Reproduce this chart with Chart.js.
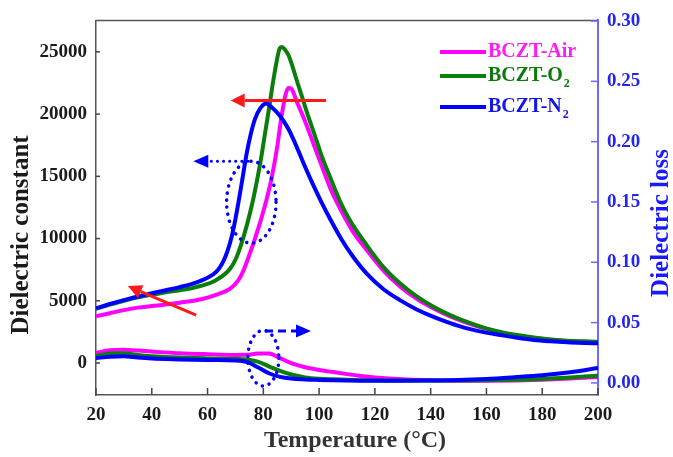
<!DOCTYPE html>
<html lang="en">
<head>
<meta charset="UTF-8" />
<title>BCZT dielectric constant and loss</title>
<script src="https://cdn.jsdelivr.net/npm/chart.js@4.4.0/dist/chart.umd.min.js"></script>
<style>
    body { margin: 0; background: #fff; }
</style>
</head>
<body>
<canvas id="mychart" width="673" height="457"></canvas>
<script>
// dielectric constant (left axis)
const airT   = [20,25,30,35,40,45,50,55,60,64,68,71,73,75,77,79,81,83,85,86.5,88,89,90,92,95,98,101,104,108,112,117,123,129,135,141,147,153,159,165,171,177,183,189,195,200];
const airEps = [3750,4000,4250,4450,4580,4700,4850,5000,5250,5550,5950,6650,7500,8700,10000,11400,13000,14900,17400,19800,21600,22100,22050,21000,19400,17600,15800,14050,12200,10600,9100,7450,6150,5150,4380,3750,3230,2800,2460,2200,2010,1870,1760,1700,1660];

const o2T   = [20,25,30,35,40,45,50,55,60,63,66,68,70,72,74,76,77.5,79,80.5,82,83.5,85,85.8,86.7,87.7,89,90.5,92,94,96,98,101,104,107.5,111,117,123,129,135,141,147,153,159,165,171,177,183,189,195,200];
const o2Eps = [4350,4700,5000,5280,5480,5680,5850,6050,6350,6660,7100,7550,8300,9500,11000,12800,14400,16200,18300,20400,22600,24500,25250,25400,25200,24750,23800,22700,21300,19900,18600,16600,14900,13000,11500,9500,7730,6400,5350,4520,3850,3300,2850,2500,2250,2050,1900,1790,1740,1700];

const n2T   = [20,25,30,35,40,45,50,55,60,63,65,66.5,68,69.5,71,72.5,74,75.5,77,79,81,83,86,89,92,95,98,101,104,108,112,117,123,129,135,141,147,153,159,165,171,177,183,189,195,200];
const n2Eps = [4400,4750,5050,5350,5600,5850,6100,6400,6850,7300,7900,8600,9600,11000,12800,14800,16800,18400,19600,20500,20850,20550,19850,18800,17350,15750,14250,12850,11550,9950,8600,7200,5950,5050,4300,3700,3200,2780,2480,2250,2030,1850,1740,1660,1610,1580];

// dielectric loss (right axis)
const lossT  = [20,25,30,35,40,50,60,70,74,78,82,86,90,95,100,105,110,115,120,130,140,150,160,170,180,190,200];
const airLoss = [0.025,0.027,0.0275,0.0268,0.026,0.0246,0.0238,0.0232,0.0233,0.0243,0.0244,0.0205,0.0165,0.013,0.0108,0.009,0.0073,0.0058,0.0046,0.003,0.0023,0.0019,0.0018,0.002,0.0026,0.0036,0.005];
const o2Loss  = [0.0224,0.0244,0.0246,0.0232,0.0222,0.021,0.0203,0.0198,0.0194,0.0176,0.0138,0.01,0.007,0.0046,0.0035,0.003,0.0026,0.0023,0.0022,0.002,0.002,0.0021,0.0022,0.0026,0.0033,0.0045,0.006];
const n2Loss  = [0.0205,0.0218,0.0221,0.021,0.0202,0.0195,0.019,0.0186,0.0174,0.013,0.008,0.005,0.0036,0.0029,0.0025,0.0022,0.002,0.0019,0.0019,0.0019,0.002,0.0024,0.0033,0.0047,0.0063,0.0088,0.0124];

const xTicks    = [20,40,60,80,100,120,140,160,180,200];
const epsTicks  = [0,5000,10000,15000,20000,25000];
const lossTicks = [0,0.05,0.10,0.15,0.20,0.25,0.30];

const legendNames = ["BCZT-Air", "BCZT-O", "BCZT-N"];
const legendSubs  = ["", "2", "2"];

const MAGENTA = "#ff00ff", GREEN = "#0a7d0a", BLUE = "#0000ff";
const AXISBLUE = "#6b6bff";
const serif = "'Liberation Serif', 'Times New Roman', serif";

function pts(xs, ys) {
    return xs.map((x, i) => ({ x: x, y: ys[i] }));
}

function line(label, data, color, axis) {
    return {
        label: label,
        data: data,
        yAxisID: axis,
        borderColor: color,
        backgroundColor: color,
        borderWidth: 4,
        pointRadius: 0,
        fill: false,
        cubicInterpolationMode: 'monotone'
    };
}

function arrow(c, x1, y1, x2, y2, color, width, dash, headLen, headW) {
    const ang = Math.atan2(y2 - y1, x2 - x1);
    const bx = x2 - Math.cos(ang) * headLen, by = y2 - Math.sin(ang) * headLen;
    c.save();
    c.strokeStyle = color;
    c.fillStyle = color;
    c.lineWidth = width;
    c.lineCap = dash && dash[0] < 1 ? 'round' : 'butt';
    c.setLineDash(dash || []);
    c.beginPath();
    c.moveTo(x1, y1);
    c.lineTo(bx, by);
    c.stroke();
    c.setLineDash([]);
    c.beginPath();
    c.moveTo(x2, y2);
    c.lineTo(bx + Math.sin(ang) * headW, by - Math.cos(ang) * headW);
    c.lineTo(bx - Math.sin(ang) * headW, by + Math.cos(ang) * headW);
    c.closePath();
    c.fill();
    c.restore();
}

function dottedEllipse(c, cx, cy, rx, ry, color) {
    c.save();
    c.strokeStyle = color;
    c.lineWidth = 3.5;
    c.lineCap = 'round';
    c.setLineDash([0.1, 7]);
    c.beginPath();
    c.ellipse(cx, cy, rx, ry, 0, 0, Math.PI * 2);
    c.stroke();
    c.restore();
}

const extras = {
    id: 'extras',
    afterDatasetsDraw(chart) {
        const c = chart.ctx;
        const sx = chart.scales.x, yL = chart.scales.yL, yR = chart.scales.yR;
        const a = chart.chartArea;

        // top frame line
        c.save();
        c.strokeStyle = "#555";
        c.lineWidth = 1.5;
        c.beginPath();
        c.moveTo(a.left, a.top);
        c.lineTo(a.right, a.top);
        c.stroke();

        // inward tick marks
        c.strokeStyle = "#444";
        xTicks.forEach(v => {
            const px = sx.getPixelForValue(v);
            c.beginPath(); c.moveTo(px, a.bottom); c.lineTo(px, a.bottom - 7); c.stroke();
        });
        epsTicks.forEach(v => {
            const py = yL.getPixelForValue(v);
            c.beginPath(); c.moveTo(a.left, py); c.lineTo(a.left + 4, py); c.stroke();
        });
        c.strokeStyle = AXISBLUE;
        lossTicks.forEach(v => {
            const py = yR.getPixelForValue(v);
            c.beginPath(); c.moveTo(a.right, py); c.lineTo(a.right - 7, py); c.stroke();
        });
        c.restore();

        // red arrows pointing to the left axis
        arrow(c, sx.getPixelForValue(102.5), yL.getPixelForValue(21100),
                 sx.getPixelForValue(68.3), yL.getPixelForValue(21100), "#ff1a1a", 3, null, 14, 7);
        arrow(c, sx.getPixelForValue(55.9), yL.getPixelForValue(3850),
                 sx.getPixelForValue(31.4), yL.getPixelForValue(6180), "#ff1a1a", 3, null, 14, 7);

        // blue ellipse + dotted arrow (constant curves -> left)
        const e1x = sx.getPixelForValue(75.7), e1y = yL.getPixelForValue(12920);
        const e1rx = sx.getPixelForValue(75.7 + 8.86) - e1x;
        const e1ry = e1y - yL.getPixelForValue(12920 + 3290);
        dottedEllipse(c, e1x, e1y, e1rx, e1ry, BLUE);
        arrow(c, sx.getPixelForValue(74.5), yL.getPixelForValue(16210),
                 sx.getPixelForValue(54.9), yL.getPixelForValue(16210), BLUE, 3, [0.1, 6], 15, 6.5);

        // blue ellipse + dashed arrow (loss curves -> right)
        const e2x = sx.getPixelForValue(80), e2y = yR.getPixelForValue(0.0205);
        const e2rx = sx.getPixelForValue(80 + 5.56) - e2x;
        const e2ry = e2y - yR.getPixelForValue(0.0205 + 0.023);
        dottedEllipse(c, e2x, e2y, e2rx, e2ry, BLUE);
        arrow(c, sx.getPixelForValue(80.6), yR.getPixelForValue(0.0431),
                 sx.getPixelForValue(97.1), yR.getPixelForValue(0.0431), BLUE, 3, [8, 5], 15, 6.5);
    },
    afterDraw(chart) {
        const c = chart.ctx;
        c.save();
        // axis titles
        c.font = "bold 25px " + serif;
        c.textAlign = "center";
        c.textBaseline = "middle";
        c.fillStyle = "#1a1a1a";
        c.translate(22, 235);
        c.rotate(-Math.PI / 2);
        c.fillText("Dielectric constant", 0, 0);
        c.restore();

        c.save();
        c.font = "bold 25px " + serif;
        c.textAlign = "center";
        c.textBaseline = "middle";
        c.fillStyle = "#1a1aff";
        c.translate(662, 223);
        c.rotate(-Math.PI / 2);
        c.fillText("Dielectric loss", 0, 0);
        c.restore();

        c.save();
        c.font = "bold 24px " + serif;
        c.textAlign = "center";
        c.textBaseline = "middle";
        c.fillStyle = "#333";
        c.fillText("Temperature (\u00b0C)", 355, 441);

        // legend
        const colors = [MAGENTA, GREEN, BLUE];
        const textColors = ["#ff1aff", "#0b7a0b", "#1414ee"];
        const rows = [52, 76, 107];
        c.textAlign = "left";
        rows.forEach((y, i) => {
            c.strokeStyle = colors[i];
            c.lineWidth = 4;
            c.beginPath();
            c.moveTo(440, y);
            c.lineTo(486, y);
            c.stroke();
            c.fillStyle = textColors[i];
            c.font = "bold 20px " + serif;
            c.fillText(legendNames[i], 488, y);
            if (legendSubs[i]) {
                const w = c.measureText(legendNames[i]).width;
                c.font = "bold 12px " + serif;
                c.fillText(legendSubs[i], 488 + w + 1, y + 8);
            }
        });
        c.restore();
    }
};

const tickFont = { family: serif, size: 19, weight: 'bold' };

const ctx = document.getElementById("mychart").getContext("2d");
const myChart = new Chart(ctx, {
    type: 'line',
    data: {
        datasets: [
            line("BCZT-N2 loss", pts(lossT, n2Loss), BLUE, 'yR'),
            line("BCZT-O2 loss", pts(lossT, o2Loss), GREEN, 'yR'),
            line("BCZT-Air loss", pts(lossT, airLoss), MAGENTA, 'yR'),
            line("BCZT-N2", pts(n2T, n2Eps), BLUE, 'yL'),
            line("BCZT-O2", pts(o2T, o2Eps), GREEN, 'yL'),
            line("BCZT-Air", pts(airT, airEps), MAGENTA, 'yL')
        ]
    },
    options: {
        responsive: false,
        animation: false,
        layout: { padding: { top: 20 } },
        plugins: { legend: { display: false }, tooltip: { enabled: false } },
        scales: {
            x: {
                type: 'linear',
                min: 20,
                max: 200,
                afterBuildTicks: s => { s.ticks = xTicks.map(v => ({ value: v })); },
                afterFit: s => { s.height = 62; },
                grid: { display: false, drawTicks: false },
                border: { color: "#555", width: 1.5 },
                ticks: { font: tickFont, color: "#1a1a1a", padding: 9, callback: v => String(v) }
            },
            yL: {
                type: 'linear',
                position: 'left',
                min: -2570,
                max: 27530,
                afterBuildTicks: s => { s.ticks = epsTicks.map(v => ({ value: v })); },
                afterFit: s => { s.width = 96; },
                grid: { display: false, drawTicks: false },
                border: { color: "#555", width: 1.5 },
                ticks: { font: tickFont, color: "#1a1a1a", padding: 9, callback: v => String(v) }
            },
            yR: {
                type: 'linear',
                position: 'right',
                min: -0.01,
                max: 0.3005,
                afterBuildTicks: s => { s.ticks = lossTicks.map(v => ({ value: v })); },
                afterFit: s => { s.width = 75; },
                grid: { display: false, drawTicks: false },
                border: { color: AXISBLUE, width: 2 },
                ticks: { font: tickFont, color: "#2424f0", padding: 9, callback: v => v.toFixed(2) }
            }
        }
    },
    plugins: [extras]
});
</script>
</body>
</html>
